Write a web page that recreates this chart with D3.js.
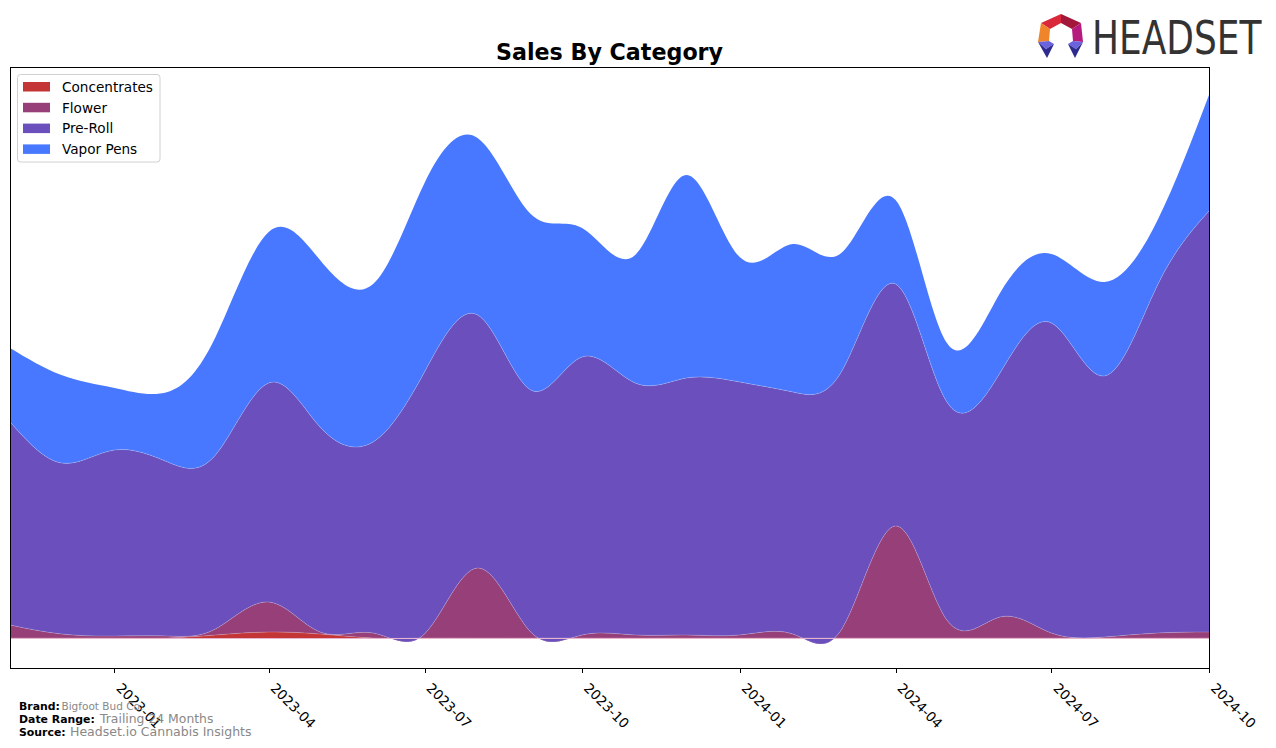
<!DOCTYPE html>
<html>
<head>
<meta charset="utf-8">
<script src="https://cdn.jsdelivr.net/npm/d3@7"></script>
<style>
  html, body { margin: 0; padding: 0; background: #ffffff; }
  svg { display: block; }
</style>
</head>
<body>
<svg id="chart" width="1276" height="748"></svg>
<script>
// ---------------- data ----------------
const months = ["2022-11","2022-12","2023-01","2023-02","2023-03","2023-04","2023-05","2023-06",
  "2023-07","2023-08","2023-09","2023-10","2023-11","2023-12","2024-01","2024-02","2024-03",
  "2024-04","2024-05","2024-06","2024-07","2024-08","2024-09","2024-10"];
const concentrates = [0,0,0,0,3,6,4,0,0,0,0,0,0,0,0,0,0,0,0,0,0,0,0,0];
const flower       = [13,4,2,2,6,30,2,5,4,70,6,3,3,3,3,4,10,112,18,21,5,1,5,6];
const preRoll      = [203,171,186,174,174,219,205,191,262,253,242,278,252,257,253,242,258,242,218,244,310,261,348,421];
const vaporPens    = [74,88,62,70,118,151,167,158,189,177,176,129,128,203,125,148,118,84,59,80,69,94,65,116];
const categories   = ["Concentrates","Flower","Pre-Roll","Vapor Pens"];
const colors       = ["#c43536","#973f78","#6a4fbd","#4878ff"];
const tickLabels   = ["2023-01","2023-04","2023-07","2023-10","2024-01","2024-04","2024-07","2024-10"];
const titleText = "Sales By Category";
const footer = [
  {label:"Brand:", value:"Bigfoot Bud Co."},
  {label:"Date Range:", value:"Trailing 24 Months"},
  {label:"Source:", value:"Headset.io Cannabis Insights"}
];

// ---------------- layout ----------------
const svg = d3.select("#chart");
const L = 10, R = 1209, T = 67, B = 668;
const parse = d3.timeParse("%Y-%m");
const rows = months.map((m,i) => ({
  date: parse(m),
  "Concentrates": concentrates[i],
  "Flower": flower[i],
  "Pre-Roll": preRoll[i],
  "Vapor Pens": vaporPens[i]
}));

const x = d3.scaleTime().domain([parse("2022-11"), parse("2024-10")]).range([L, R]);
const y = d3.scaleLinear().domain([-30, 571]).range([B, T]);

const stack = d3.stack().keys(categories);
const series = stack(rows);

svg.append("defs").append("clipPath").attr("id","plotclip")
  .append("rect").attr("x",L).attr("y",T).attr("width",R-L).attr("height",B-T);

const area = d3.area()
  .x(d => x(d.data.date))
  .y0(d => y(d[0]))
  .y1(d => y(d[1]))
  .curve(d3.curveNatural);

const topLine = d3.line()
  .x(d => x(d.data.date))
  .y(d => y(d[1]))
  .curve(d3.curveNatural);

const g = svg.append("g").attr("clip-path","url(#plotclip)");
g.selectAll("path.layer").data(series).enter().append("path")
  .attr("class","layer")
  .attr("d", area)
  .attr("fill", (d,i) => colors[i]);

// faint seams between layers
g.selectAll("path.seam").data(series.slice(0,3)).enter().append("path")
  .attr("class","seam")
  .attr("d", topLine)
  .attr("fill","none")
  .attr("stroke","rgba(255,255,255,0.25)")
  .attr("stroke-width",0.8);

// baseline light line
g.append("line")
  .attr("x1",L).attr("x2",R).attr("y1",y(0)+0.5).attr("y2",y(0)+0.5)
  .attr("stroke","#e8b6cc").attr("stroke-width",1.2);

// frame
svg.append("rect").attr("x",L+0.5).attr("y",T+0.5).attr("width",R-L).attr("height",B-T)
  .attr("fill","none").attr("stroke","#000").attr("stroke-width",1);

// x axis ticks
const tickDates = tickLabels.map(parse);
const axis = svg.append("g");
axis.selectAll("line.tick").data(tickDates).enter().append("line")
  .attr("x1", d => Math.round(x(d))+0.5).attr("x2", d => Math.round(x(d))+0.5)
  .attr("y1", B+0.5).attr("y2", B+5)
  .attr("stroke","#000").attr("stroke-width",1);
axis.selectAll("text.tick").data(tickDates).enter().append("text")
  .attr("transform", d => `translate(${x(d)+1},${689}) rotate(45)`)
  .attr("font-family","DejaVu Sans")
  .attr("font-size","13.6px")
  .attr("fill","#000")
  .text((d,i) => tickLabels[i]);

// title
svg.append("text")
  .attr("x", (L+R)/2).attr("y", 60)
  .attr("text-anchor","middle")
  .attr("font-family","DejaVu Sans").attr("font-weight","bold").attr("font-size","22.2px")
  .text(titleText);

// legend
const lg = svg.append("g");
lg.append("rect").attr("x",17.5).attr("y",74.5).attr("width",142.5).attr("height",87.5)
  .attr("rx",3).attr("fill","#fff").attr("fill-opacity",0.8)
  .attr("stroke","#d0d0d0").attr("stroke-width",1);
categories.forEach((c,i) => {
  const yy = 82 + i*20.8;
  lg.append("rect").attr("x",23).attr("y",yy).attr("width",27).attr("height",9.5).attr("fill",colors[i]);
  lg.append("text").attr("x",62).attr("y",yy+9.8)
    .attr("font-family","DejaVu Sans").attr("font-size","13.6px").attr("fill","#000").text(c);
});

// footer
const fy = [709.5, 722.5, 736];
const fx = [61.5, 100, 70];
const fs = ["10.5px","12.4px","12.5px"];
footer.forEach((f,i) => {
  svg.append("text").attr("x",19).attr("y",fy[i])
    .attr("font-family","DejaVu Sans").attr("font-weight","bold").attr("font-size","10.9px")
    .attr("fill","#000").text(f.label);
  svg.append("text").attr("x",fx[i]).attr("y",fy[i])
    .attr("font-family","DejaVu Sans").attr("font-size",fs[i])
    .attr("fill","#888").text(f.value);
});

// logo
const logo = svg.append("g");
const P = {
  T:[1061,14], UL:[1041,23], UR:[1081,23], L:[1038,42], Rr:[1083,42],
  IT:[1061,23], IUL:[1050,29], IUR:[1072,29], IL:[1049,41], IR:[1073,41],
  LL1:[1054,44], LB:[1047,58], RL1:[1068,44], RB:[1075,58], LM:[1046,49], RM:[1076,49]
};
const facets = [
  [["T","UL","IUL","IT"], "#d9283a"],
  [["T","UR","IUR","IT"], "#a3173a"],
  [["UL","L","IL","IUL"], "#f0842a"],
  [["UR","Rr","IR","IUR"], "#b51a7c"],
  [["L","IL","LL1","LM"], "#6b62de"],
  [["L","LM","LL1","LB"], "#2e2b8f"],
  [["Rr","IR","RL1","RM"], "#6b62de"],
  [["Rr","RM","RL1","RB"], "#2e2b8f"]
];
facets.forEach(([pts,col]) => {
  logo.append("polygon").attr("points", pts.map(k => P[k].join(",")).join(" ")).attr("fill", col);
});
logo.append("text")
  .attr("transform","translate(1092,54) scale(0.765,1)")
  .attr("font-family","DejaVu Sans")
  .attr("font-size","47px").attr("fill","#333")
  .text("HEADSET");
</script>
</body>
</html>
